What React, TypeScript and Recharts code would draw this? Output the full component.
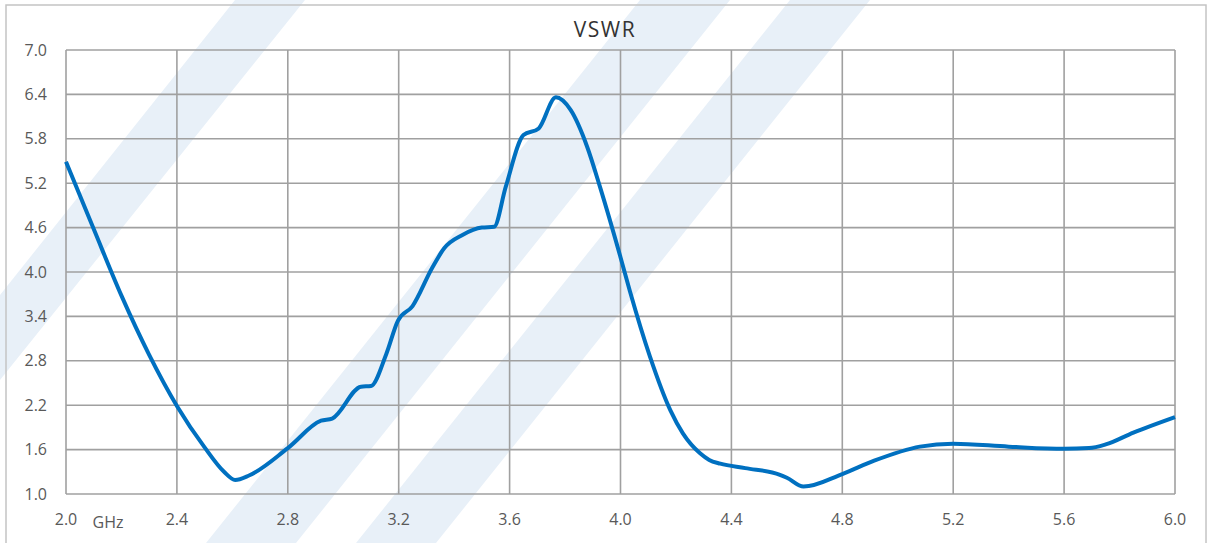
import React from 'react';
import { LineChart, Line, XAxis, YAxis, CartesianGrid } from 'recharts';

const freqGHz = [
  2.0, 2.1, 2.2, 2.3, 2.4, 2.5, 2.57, 2.61, 2.66, 2.8, 2.92, 2.96,
  3.064, 3.1, 3.155, 3.197, 3.25, 3.32, 3.364, 3.43, 3.5, 3.544, 3.586, 3.65,
  3.705, 3.767, 3.82, 3.88, 3.926, 4.0, 4.034, 4.106, 4.18, 4.225, 4.287, 4.32,
  4.36, 4.45, 4.575, 4.6, 4.66, 4.8, 4.915, 5.08, 5.2, 5.4, 5.6, 5.69, 5.75, 5.85, 6.0,
];
const vswrValues = [
  5.49, 4.58, 3.68, 2.88, 2.19, 1.63, 1.3, 1.19, 1.25, 1.62, 1.99, 2.02,
  2.45, 2.46, 2.89, 3.34, 3.54, 4.05, 4.32, 4.5, 4.6, 4.61, 5.15, 5.85,
  5.94, 6.36, 6.19, 5.69, 5.15, 4.2, 3.74, 2.86, 2.13, 1.82, 1.55, 1.46,
  1.41, 1.35, 1.26, 1.22, 1.1, 1.27, 1.45, 1.64, 1.68, 1.64, 1.61, 1.62, 1.67, 1.83, 2.04,
];
const xTicks = [2.0, 2.4, 2.8, 3.2, 3.6, 4.0, 4.4, 4.8, 5.2, 5.6, 6.0];
const yTicks = [1.0, 1.6, 2.2, 2.8, 3.4, 4.0, 4.6, 5.2, 5.8, 6.4, 7.0];

const data = freqGHz.map((f, i) => ({ f, v: vswrValues[i] }));

const wm = '#e8f0f8';
const tickStyle = { fill: '#595959', fontSize: 16, fontFamily: 'Open Sans' };

export default function App() {
  return (
    <div style={{ position: 'absolute', left: 0, top: 0, width: 1209, height: 543, background: '#fff', overflow: 'hidden' }}>
      <svg width={1209} height={543} style={{ position: 'absolute', left: 0, top: 0 }}>
        <polygon points="640,0 730,0 296,543 206,543" fill={wm} />
        <polygon points="790,0 870,0 436,543 356,543" fill={wm} />
        <polygon points="235,0 305,0 0,380 0,295" fill={wm} />
        <rect x={6} y={5} width={1200} height={560} fill="none" stroke="#c4c4c4" strokeWidth={1.5} />
        <text x={605} y={37} textAnchor="middle" fontFamily="Open Sans" fontSize={21} letterSpacing={1.5} fill="#333333">VSWR</text>
        <text x={108} y={528} textAnchor="middle" fontFamily="Open Sans" fontSize={16} fill="#595959">GHz</text>
      </svg>
      <div style={{ position: 'absolute', left: 0, top: 0 }}>
        <LineChart width={1209} height={543} data={data} margin={{ top: 50, right: 34, bottom: 19, left: 0 }}>
          <CartesianGrid stroke="#a0a0a0" strokeWidth={1.6} />
          <XAxis
            type="number"
            dataKey="f"
            domain={[2, 6]}
            ticks={xTicks}
            interval={0}
            tickFormatter={(v: number) => v.toFixed(1)}
            axisLine={false}
            tickLine={false}
            tickMargin={14}
            height={30}
            tick={tickStyle}
          />
          <YAxis
            type="number"
            domain={[1, 7]}
            ticks={yTicks}
            interval={0}
            tickFormatter={(v: number) => v.toFixed(1)}
            axisLine={false}
            tickLine={false}
            tickMargin={13}
            width={66}
            tick={tickStyle}
          />
          <Line type="monotone" dataKey="v" stroke="#0070C0" strokeWidth={4} dot={false} isAnimationActive={false} />
        </LineChart>
      </div>
    </div>
  );
}
